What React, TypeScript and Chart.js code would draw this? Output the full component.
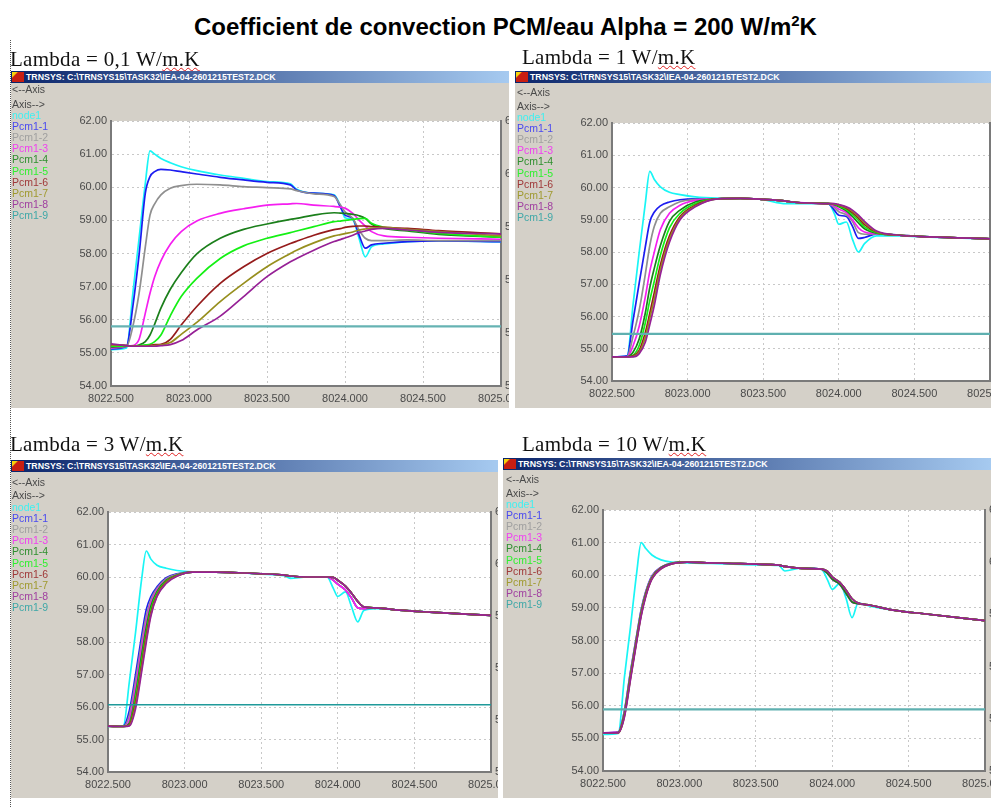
import React, { useEffect, useRef } from "react";
import { Chart, registerables } from "chart.js";

Chart.register(...registerables);

const heading = "Coefficient de convection PCM/eau Alpha = 200 W/m";
const windowTitle = "TRNSYS: C:\\TRNSYS15\\TASK32\\IEA-04-2601215TEST2.DCK";
const seriesNames = ["node1", "Pcm1-1", "Pcm1-2", "Pcm1-3", "Pcm1-4", "Pcm1-5", "Pcm1-6", "Pcm1-7", "Pcm1-8", "Pcm1-9"];
const seriesColors = ["#19f5f5", "#1c1cf0", "#8f8f8f", "#f51ef0", "#1b7f1b", "#14f014", "#951b1b", "#978f1e", "#962096", "#2fa3a3"];
const legendColors = ["#3ff0f0", "#4a4af0", "#a0a0a0", "#f040f0", "#2f8f2f", "#30f030", "#a03a3a", "#a09a30", "#a040a0", "#40a8a8"];

const days = [8022.5, 8022.6, 8022.64, 8022.68, 8022.72, 8022.75, 8022.78, 8022.82, 8022.88, 8022.95, 8023.05, 8023.2, 8023.35, 8023.5, 8023.65, 8023.69, 8023.8, 8023.93, 8023.97, 8024, 8024.05, 8024.09, 8024.13, 8024.17, 8024.25, 8024.4, 8024.6, 8025];
const flatDays = [8022.5, 8025];

// Lambda = 0,1
const nodeA = [55.1, 55.15, 56.8, 58.46, 60.12, 61.1, 61.0, 60.87, 60.74, 60.62, 60.5, 60.37, 60.27, 60.17, 60.1, 59.94, 59.82, 59.77, 59.45, 59.08, 59.02, 58.46, 57.9, 58.2, 58.29, 58.36, 58.38, 58.35];
const pcm1A = [55.12, 55.2, 56.4, 57.96, 59.82, 60.32, 60.47, 60.54, 60.52, 60.47, 60.4, 60.3, 60.22, 60.15, 60.07, 59.92, 59.82, 59.75, 59.41, 59.16, 59.06, 58.56, 58.16, 58.26, 58.31, 58.36, 58.38, 58.36];
const pcm2A = [55.15, 55.2, 55.8, 56.8, 58.2, 59.16, 59.5, 59.77, 59.97, 60.05, 60.09, 60.07, 60.02, 59.99, 59.95, 59.9, 59.8, 59.72, 59.47, 59.26, 59.06, 58.71, 58.46, 58.39, 58.39, 58.41, 58.39, 58.39];
const pcm3A = [55.15, 55.2, 55.22, 55.41, 56.2, 56.8, 57.3, 57.78, 58.28, 58.66, 58.98, 59.21, 59.35, 59.46, 59.5, 59.51, 59.46, 59.42, 59.4, 59.37, 59.21, 59.01, 58.83, 58.66, 58.53, 58.49, 58.46, 58.43];
const pcm4A = [55.18, 55.2, 55.2, 55.24, 55.34, 55.54, 55.87, 56.35, 56.92, 57.42, 57.99, 58.46, 58.73, 58.89, 59.03, 59.06, 59.16, 59.23, 59.22, 59.21, 59.18, 59.14, 59.06, 58.89, 58.76, 58.68, 58.58, 58.49];
const pcm5A = [55.2, 55.2, 55.2, 55.22, 55.24, 55.26, 55.34, 55.54, 56.12, 56.7, 57.25, 57.85, 58.23, 58.46, 58.63, 58.68, 58.81, 58.96, 58.98, 59.0, 59.03, 59.05, 59.06, 58.91, 58.79, 58.71, 58.61, 58.49];
const pcm6A = [55.25, 55.22, 55.2, 55.2, 55.2, 55.22, 55.25, 55.26, 55.41, 55.84, 56.4, 57.1, 57.6, 58.0, 58.3, 58.37, 58.55, 58.72, 58.75, 58.79, 58.82, 58.83, 58.83, 58.81, 58.79, 58.76, 58.69, 58.59];
const pcm7A = [55.25, 55.22, 55.2, 55.2, 55.2, 55.2, 55.22, 55.24, 55.31, 55.56, 55.92, 56.55, 57.1, 57.6, 58.0, 58.1, 58.32, 58.53, 58.57, 58.6, 58.65, 58.71, 58.74, 58.76, 58.79, 58.73, 58.66, 58.53];
const pcm8A = [55.27, 55.22, 55.2, 55.2, 55.2, 55.2, 55.2, 55.22, 55.25, 55.37, 55.69, 56.11, 56.7, 57.3, 57.75, 57.85, 58.1, 58.36, 58.42, 58.47, 58.55, 58.63, 58.68, 58.73, 58.76, 58.71, 58.64, 58.59];
const pcm9A = [55.8, 55.8];

// Lambda = 1
const plateauB = [59.65, 59.66, 59.63, 59.58, 59.55, 59.52, 59.5];
const nodeB = [54.75, 54.78, 56.4, 58.0, 59.5, 60.5, 60.25, 60.02, 59.85, 59.78, 59.71, 59.67, 59.66, 59.62, 59.5, 59.5, 59.5, 59.5, 59.2, 58.86, 58.93, 58.4, 58.0, 58.26, 58.5, 58.5, 58.46, 58.41];
const pcm1B = [54.75, 54.78, 55.9, 57.04, 58.15, 58.93, 59.24, 59.43, 59.55, 59.62, 59.65, ...plateauB, 59.3, 59.14, 59.1, 58.8, 58.42, 58.45, 58.56, 58.52, 58.47, 58.41];
const pcm2B = [54.75, 54.76, 55.4, 56.2, 57.3, 58.2, 58.8, 59.2, 59.4, 59.56, 59.63, ...plateauB, 59.38, 59.25, 59.15, 58.95, 58.6, 58.55, 58.56, 58.52, 58.47, 58.41];
const pcm3B = [54.75, 54.75, 55.1, 55.7, 56.6, 57.4, 58.0, 58.7, 59.2, 59.45, 59.6, ...plateauB, 59.43, 59.33, 59.22, 59.0, 58.75, 58.62, 58.57, 58.52, 58.47, 58.41];
const pcm4B = [54.75, 54.75, 54.9, 55.3, 56.1, 56.9, 57.5, 58.2, 58.95, 59.3, 59.55, ...plateauB, 59.47, 59.4, 59.28, 59.1, 58.9, 58.72, 58.58, 58.52, 58.47, 58.41];
const pcm5B = [54.75, 54.75, 54.8, 55.1, 55.8, 56.5, 57.1, 57.9, 58.75, 59.2, 59.5, ...plateauB, 59.48, 59.43, 59.32, 59.17, 58.98, 58.78, 58.6, 58.52, 58.47, 58.41];
const pcm6B = [54.75, 54.75, 54.78, 54.95, 55.5, 56.1, 56.75, 57.6, 58.5, 59.1, 59.45, ...plateauB, 59.49, 59.45, 59.36, 59.22, 59.05, 58.85, 58.62, 58.52, 58.47, 58.41];
const pcm7B = [54.75, 54.75, 54.76, 54.9, 55.35, 55.95, 56.55, 57.45, 58.4, 59.05, 59.42, ...plateauB, 59.49, 59.46, 59.38, 59.26, 59.1, 58.9, 58.63, 58.52, 58.47, 58.41];
const pcm8B = [54.75, 54.75, 54.75, 54.85, 55.2, 55.75, 56.35, 57.3, 58.3, 59.0, 59.4, ...plateauB, 59.5, 59.47, 59.4, 59.3, 59.14, 58.95, 58.65, 58.52, 58.47, 58.41];
const pcm9B = [55.46, 55.46];

// Lambda = 3
const plateauC = [60.15, 60.13, 60.1, 60.06, 60.03, 60.0, 60.0];
const tailC1 = [59.9, 59.78, 59.6, 59.35, 59.05, 59.03, 59.05, 58.98, 58.92, 58.82];
const tailC2 = [59.99, 59.9, 59.72, 59.5, 59.25, 59.08, 59.05, 58.98, 58.92, 58.82];
const nodeC = [55.4, 55.42, 56.8, 58.3, 59.95, 60.8, 60.55, 60.36, 60.27, 60.2, 60.16, 60.15, 60.13, 60.09, 60.04, 59.96, 60.0, 60.0, 59.66, 59.4, 59.54, 59.08, 58.62, 58.97, 59.03, 58.98, 58.92, 58.82];
const pcm1C = [55.41, 55.42, 55.9, 57.0, 58.2, 59.0, 59.4, 59.7, 59.98, 60.1, 60.15, ...plateauC, ...tailC1];
const pcm2C = [55.41, 55.41, 55.75, 56.8, 58.0, 58.8, 59.3, 59.65, 59.95, 60.08, 60.15, ...plateauC, ...tailC1];
const pcm3C = [55.41, 55.4, 55.6, 56.6, 57.8, 58.6, 59.2, 59.6, 59.92, 60.07, 60.15, ...plateauC, ...tailC1];
const pcm4C = [55.41, 55.4, 55.5, 56.4, 57.6, 58.45, 59.1, 59.55, 59.9, 60.06, 60.15, ...plateauC, ...tailC2];
const pcm5C = [55.41, 55.4, 55.47, 56.3, 57.45, 58.3, 59.0, 59.5, 59.88, 60.05, 60.15, ...plateauC, ...tailC2];
const pcm6C = [55.41, 55.4, 55.45, 56.15, 57.3, 58.2, 58.9, 59.45, 59.85, 60.04, 60.15, ...plateauC, ...tailC2];
const pcm7C = [55.41, 55.4, 55.43, 56.05, 57.2, 58.1, 58.85, 59.42, 59.83, 60.03, 60.15, ...plateauC, ...tailC2];
const pcm8C = [55.41, 55.4, 55.42, 55.95, 57.1, 58.0, 58.8, 59.4, 59.8, 60.02, 60.15, ...plateauC, ...tailC2];
const pcm9C = [56.07, 56.07];

// Lambda = 10
const plateauD = [60.38, 60.36, 60.34, 60.31, 60.27, 60.21, 60.19];
const tailD1 = [60.05, 59.88, 59.72, 59.45, 59.18, 59.13, 59.08, 58.93, 58.82, 58.61];
const tailD2 = [60.12, 59.95, 59.78, 59.55, 59.28, 59.15, 59.08, 58.93, 58.82, 58.61];
const nodeD = [55.12, 55.15, 56.87, 58.42, 60.06, 61.0, 60.82, 60.62, 60.47, 60.4, 60.38, 60.36, 60.34, 60.32, 60.3, 60.13, 60.22, 60.18, 59.85, 59.57, 59.75, 59.3, 58.7, 59.15, 59.05, 58.93, 58.82, 58.61];
const pcm1D = [55.17, 55.2, 55.85, 57.05, 58.15, 58.95, 59.5, 59.98, 60.25, 60.37, 60.4, ...plateauD, ...tailD1];
const pcm2D = [55.17, 55.19, 55.82, 57.02, 58.12, 58.92, 59.48, 59.96, 60.24, 60.37, 60.4, ...plateauD, ...tailD1];
const pcm3D = [55.17, 55.19, 55.79, 56.98, 58.09, 58.89, 59.46, 59.95, 60.24, 60.36, 60.4, ...plateauD, ...tailD1];
const pcm4D = [55.17, 55.18, 55.76, 56.94, 58.06, 58.86, 59.44, 59.93, 60.23, 60.36, 60.4, ...plateauD, ...tailD1];
const pcm5D = [55.17, 55.18, 55.73, 56.9, 58.03, 58.83, 59.41, 59.92, 60.22, 60.36, 60.4, ...plateauD, ...tailD2];
const pcm6D = [55.17, 55.17, 55.7, 56.87, 58.0, 58.8, 59.39, 59.9, 60.21, 60.35, 60.4, ...plateauD, ...tailD2];
const pcm7D = [55.17, 55.17, 55.67, 56.84, 57.97, 58.78, 59.37, 59.89, 60.2, 60.35, 60.4, ...plateauD, ...tailD2];
const pcm8D = [55.17, 55.17, 55.65, 56.8, 57.95, 58.75, 59.35, 59.88, 60.2, 60.35, 60.4, ...plateauD, ...tailD2];
const pcm9D = [55.89, 55.89];

type PanelCfg = {
  label: string;
  labelX: number;
  labelY: number;
  win: { x: number; y: number; w: number; h: number };
  plot: { l: number; r: number; t: number; b: number };
  rows: { axisA: number; axisB: number; first: number; x: number };
  teal: { width: number; color: string };
  series: number[][];
};

const panels: PanelCfg[] = [
  {
    label: "Lambda = 0,1 W/",
    labelX: 10,
    labelY: 59,
    win: { x: 11, y: 71, w: 498, h: 337 },
    plot: { l: 111, r: 501, t: 121, b: 386 },
    rows: { axisA: 89, axisB: 104, first: 115, x: 12 },
    teal: { width: 2.4, color: "#66b3b3" },
    series: [nodeA, pcm1A, pcm2A, pcm3A, pcm4A, pcm5A, pcm6A, pcm7A, pcm8A, pcm9A],
  },
  {
    label: "Lambda = 1 W/",
    labelX: 522,
    labelY: 57,
    win: { x: 515, y: 71, w: 476, h: 337 },
    plot: { l: 612, r: 990, t: 123, b: 381 },
    rows: { axisA: 92, axisB: 106, first: 117, x: 517 },
    teal: { width: 2.2, color: "#5fb0b0" },
    series: [nodeB, pcm1B, pcm2B, pcm3B, pcm4B, pcm5B, pcm6B, pcm7B, pcm8B, pcm9B],
  },
  {
    label: "Lambda = 3 W/",
    labelX: 10,
    labelY: 444,
    win: { x: 11, y: 460, w: 487, h: 338 },
    plot: { l: 108, r: 491, t: 512, b: 772 },
    rows: { axisA: 482, axisB: 495, first: 507, x: 12 },
    teal: { width: 1.6, color: "#1f9a9a" },
    series: [nodeC, pcm1C, pcm2C, pcm3C, pcm4C, pcm5C, pcm6C, pcm7C, pcm8C, pcm9C],
  },
  {
    label: "Lambda = 10 W/",
    labelX: 522,
    labelY: 444,
    win: { x: 503, y: 458, w: 488, h: 340 },
    plot: { l: 603, r: 985, t: 510, b: 771 },
    rows: { axisA: 479, axisB: 493, first: 504, x: 506 },
    teal: { width: 2.2, color: "#5fb0b0" },
    series: [nodeD, pcm1D, pcm2D, pcm3D, pcm4D, pcm5D, pcm6D, pcm7D, pcm8D, pcm9D],
  },
];

const tickColor = "#4a4a4a";
const gridColor = "#c8c8c8";
const axisColor = "#7a7a7a";
const tickFont = { family: "'Liberation Sans'", size: 11 };

const plotBackground = {
  id: "plotBackground",
  beforeDraw(chart: any) {
    const { ctx, chartArea } = chart;
    ctx.save();
    ctx.fillStyle = "#fff";
    ctx.fillRect(chartArea.left, chartArea.top, chartArea.right - chartArea.left, chartArea.bottom - chartArea.top);
    ctx.restore();
  },
};

function PanelChart({ cfg }: { cfg: PanelCfg }) {
  const ref = useRef<HTMLCanvasElement | null>(null);
  useEffect(() => {
    if (!ref.current) return;
    const { win, plot, series, teal } = cfg;
    const leftW = plot.l - win.x;
    const rightW = win.x + win.w - plot.r;
    const bottomH = win.y + win.h - plot.b;
    const chart = new Chart(ref.current, {
      type: "line",
      data: {
        datasets: series.map((ys, i) => ({
          label: seriesNames[i],
          data: ys.map((y, k) => ({ x: (ys.length === 2 ? flatDays : days)[k], y })),
          borderColor: i === 9 ? teal.color : seriesColors[i],
          borderWidth: i === 9 ? teal.width : 1.7,
          pointRadius: 0,
          cubicInterpolationMode: "monotone",
          order: -i,
        })),
      } as any,
      options: {
        animation: false,
        responsive: false,
        layout: { padding: { top: plot.t - win.y, left: 0, right: 0, bottom: 0 } },
        plugins: { legend: { display: false }, title: { display: false }, tooltip: { enabled: false } },
        scales: {
          x: {
            type: "linear",
            min: 8022.5,
            max: 8025,
            ticks: {
              stepSize: 0.5,
              maxRotation: 0,
              autoSkip: false,
              padding: 6,
              color: tickColor,
              font: tickFont,
              callback: (v: any) => Number(v).toFixed(3),
            },
            grid: { color: gridColor, drawTicks: false },
            border: { color: axisColor, width: 2, dash: [2, 3] },
            afterFit(s: any) {
              s.height = bottomH;
              s.paddingLeft = 0;
              s.paddingRight = 0;
            },
          },
          y: {
            min: 54,
            max: 62,
            position: "left",
            ticks: {
              stepSize: 1,
              padding: 4,
              color: tickColor,
              font: tickFont,
              callback: (v: any) => Number(v).toFixed(2),
            },
            grid: { color: gridColor, drawTicks: false },
            border: { color: axisColor, width: 2, dash: [2, 3] },
            afterFit(s: any) {
              s.width = leftW;
              s.paddingTop = 0;
              s.paddingBottom = 0;
            },
          },
          y2: {
            min: 50,
            max: 65,
            position: "right",
            ticks: {
              stepSize: 3,
              padding: 4,
              color: tickColor,
              font: tickFont,
              callback: (v: any) => Number(v).toFixed(2),
            },
            grid: { display: false, drawTicks: false },
            border: { color: axisColor, width: 2 },
            afterFit(s: any) {
              s.width = rightW;
              s.paddingTop = 0;
              s.paddingBottom = 0;
            },
          },
        },
      } as any,
      plugins: [plotBackground],
    });
    return () => chart.destroy();
  }, [cfg]);
  return <canvas ref={ref} width={cfg.win.w} height={cfg.win.h} style={{ position: "absolute", left: 0, top: 0, display: "block" }} />;
}

function Panel({ cfg }: { cfg: PanelCfg }) {
  const { win, rows } = cfg;
  const rowStyle = (y: number, color: string): React.CSSProperties => ({
    position: "absolute",
    left: rows.x - win.x,
    top: y - win.y - 7,
    height: 14,
    font: "10.5px/14px 'Liberation Sans'",
    color,
    whiteSpace: "nowrap",
  });
  return (
    <div style={{ position: "absolute", left: win.x, top: win.y, width: win.w, height: win.h, background: "#d4d0c8", overflow: "hidden", filter: "blur(0.55px)" }}>
      <PanelChart cfg={cfg} />
      <div
        style={{
          position: "absolute",
          left: 0,
          top: 0,
          width: "100%",
          height: 12,
          background: "linear-gradient(90deg,#0a246a 0%,#a6caf0 100%)",
          color: "#fff",
          font: "bold 8.8px/12px 'Liberation Sans'",
          paddingLeft: 15,
          boxSizing: "border-box",
          whiteSpace: "nowrap",
          overflow: "hidden",
        }}
      >
        <span style={{ position: "absolute", left: 1, top: 1, width: 12, height: 10, background: "linear-gradient(135deg,#f6d30c 0 22%,#c81e12 30%)" }} />
        {windowTitle}
      </div>
      <div style={rowStyle(rows.axisA, "#4a4a4a")}>{"<--Axis"}</div>
      <div style={rowStyle(rows.axisB, "#4a4a4a")}>{"Axis-->"}</div>
      {seriesNames.map((n, i) => (
        <div key={n} style={rowStyle(rows.first + i * 11.1, legendColors[i])}>
          {n}
        </div>
      ))}
    </div>
  );
}

export default function App() {
  return (
    <div style={{ position: "absolute", left: 0, top: 0, width: 991, height: 807, overflow: "hidden", background: "#fff" }}>
      <div
        style={{
          position: "absolute",
          left: 0,
          top: 13,
          width: 1011,
          textAlign: "center",
          font: "bold 24px/28px 'Liberation Sans'",
          color: "#000",
          whiteSpace: "nowrap",
        }}
      >
        {heading}
        <sup style={{ fontSize: 15, lineHeight: 0 }}>2</sup>K
      </div>
      <div style={{ position: "absolute", left: 10, top: 40, bottom: 0, borderLeft: "1px dotted #555" }} />
      {panels.map((p) => (
        <React.Fragment key={p.label}>
          <div
            style={{
              position: "absolute",
              left: p.labelX,
              top: p.labelY - 12,
              font: "21px/24px 'Liberation Serif'",
              letterSpacing: 0.28,
              color: "#111",
              whiteSpace: "nowrap",
              filter: "blur(0.3px)",
            }}
          >
            {p.label}
            <span style={{ textDecoration: "underline wavy #e02020", textDecorationThickness: 1 }}>m.K</span>
          </div>
          <Panel cfg={p} />
        </React.Fragment>
      ))}
    </div>
  );
}
